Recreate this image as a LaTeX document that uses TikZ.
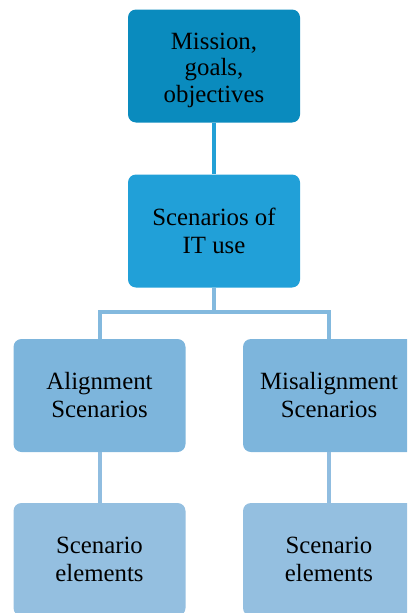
\documentclass[tikz,border=0pt]{standalone}
\usepackage{fontspec}
\setmainfont{Liberation Serif}
\definecolor{topfill}{HTML}{0A8BBE}
\definecolor{midfill}{HTML}{21A0D8}
\definecolor{lowfill}{HTML}{7DB5DC}
\definecolor{leaffill}{HTML}{94BFE0}
\definecolor{linkA}{HTML}{22A0D6}
\definecolor{linkB}{HTML}{83B9DE}
\definecolor{linkC}{HTML}{90BDE0}
\tikzset{
  box/.style={rounded corners=8pt, minimum width=172pt, minimum height=113pt,
    inner sep=0pt, align=center, text=black,
    font=\fontsize{24.8}{28}\selectfont},
  link/.style={line width=4pt},
}
\begin{document}
\begin{tikzpicture}[x=1pt,y=-1pt]
  \useasboundingbox (0,0) rectangle (407,613);
  \clip (0,0) rectangle (407,613);
  % boxes
  \node[box, fill=topfill]  (mission) at (214,66)
    {\raisebox{-4.5pt}[\height][\depth]{\renewcommand\arraystretch{0.95}%
     \begin{tabular}{@{}c@{}}Mission,\\goals,\\objectives\end{tabular}}};
  \node[box, fill=midfill]  (use)     at (214,231)  {Scenarios of\\IT use};
  \node[box, fill=lowfill]  (align)   at (99.5,395.5) {Alignment\\Scenarios};
  \node[box, fill=lowfill]  (misal)   at (329,395.5)  {Misalignment\\Scenarios};
  \node[box, fill=leaffill] (elemA)   at (99.5,559.5) {Scenario\\elements};
  \node[box, fill=leaffill] (elemB)   at (329,559.5)  {Scenario\\elements};
  % connectors
  \coordinate (fork) at (214,312);
  \draw[link, linkA] (mission.south) -- (use.north);
  \draw[link, linkB] (use.south) -- (fork);
  \draw[link, linkB] (align.north) -- (align.north |- fork) -- (misal.north |- fork) -- (misal.north);
  \draw[link, linkC] (align.south) -- (elemA.north);
  \draw[link, linkC] (misal.south) -- (elemB.north);
\end{tikzpicture}
\end{document}
